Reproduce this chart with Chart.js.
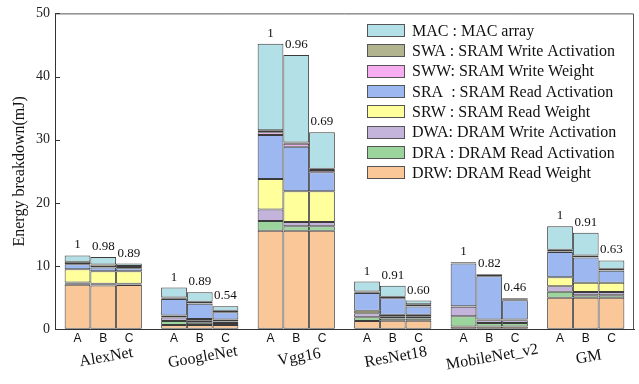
<!DOCTYPE html>
<html><head><meta charset="utf-8">
<script src="https://cdn.jsdelivr.net/npm/chart.js@4.4.1/dist/chart.umd.min.js"></script>
<style>html,body{margin:0;padding:0;background:#fff;}#wrap{width:639px;height:384px;}</style>
</head><body><div id="wrap"><canvas id="c" width="639" height="384"></canvas></div>
<script>
const groups = ['AlexNet','GoogleNet','Vgg16','ResNet18','MobileNet_v2','GM'];
const variants = ['A','B','C'];
const components = ['DRW','DRA','DWA','SRW','SRA','SWW','SWA','MAC'];
const legendLabels = {
  MAC:'MAC : MAC array', SWA:'SWA : SRAM Write Activation', SWW:'SWW: SRAM Write Weight',
  SRA:'SRA  : SRAM Read Activation', SRW:'SRW : SRAM Read Weight', DWA:'DWA: DRAM Write Activation',
  DRA:'DRA : DRAM Read Activation', DRW:'DRW: DRAM Read Weight'
};
const colors = {DRW:'#fac898',DRA:'#9bd49d',DWA:'#c4b3da',SRW:'#ffff9c',SRA:'#9db8f0',SWW:'#f7aef0',SWA:'#b1b48f',MAC:'#b3e0e6'};

// Energy (mJ) per component, per variant, over groups
const DRW_A = [7.05, 0.7, 15.6, 1.3, 0.45, 5.0];
const DRW_B = [6.95, 0.7, 15.6, 1.35, 0.45, 5.0];
const DRW_C = [7.0, 0.7, 15.6, 1.35, 0.45, 5.0];
const DRA_A = [0.15, 0.6, 1.55, 0.6, 1.6, 0.95];
const DRA_B = [0.1, 0.35, 0.7, 0.35, 0.55, 0.4];
const DRA_C = [0.1, 0.3, 0.7, 0.35, 0.55, 0.4];
const DWA_A = [0.2, 0.55, 1.8, 0.65, 1.5, 0.85];
const DWA_B = [0.15, 0.3, 0.7, 0.3, 0.45, 0.5];
const DWA_C = [0.1, 0.25, 0.7, 0.3, 0.45, 0.5];
const SRW_A = [2.1, 0.35, 4.85, 0.4, 0.1, 1.45];
const SRW_B = [2.0, 0.3, 4.85, 0.3, 0.1, 1.45];
const SRW_C = [2.0, 0.3, 4.85, 0.3, 0.1, 1.45];
const SRA_A = [0.8, 2.6, 6.95, 2.8, 6.75, 4.0];
const SRA_B = [0.6, 2.4, 7.05, 2.6, 6.85, 4.0];
const SRA_C = [0.45, 1.15, 3.0, 1.3, 3.05, 1.9];
const SWW_A = [0.05, 0.05, 0.45, 0.05, 0.05, 0.05];
const SWW_B = [0.05, 0.05, 0.45, 0.05, 0.05, 0.05];
const SWW_C = [0.05, 0.05, 0.35, 0.05, 0.05, 0.05];
const SWA_A = [0.35, 0.2, 0.3, 0.2, 0.1, 0.3];
const SWA_B = [0.4, 0.25, 0.2, 0.2, 0.15, 0.3];
const SWA_C = [0.3, 0.2, 0.2, 0.3, 0.1, 0.3];
const MAC_A = [1.0, 1.55, 13.7, 1.55, 0.1, 3.7];
const MAC_B = [1.2, 1.5, 13.85, 1.75, 0.1, 3.6];
const MAC_C = [0.4, 0.7, 5.8, 0.6, 0.15, 1.3];

const ratio_A = ['1','1','1','1','1','1'];
const ratio_B = ['0.98','0.89','0.96','0.91','0.82','0.91'];
const ratio_C = ['0.89','0.54','0.69','0.60','0.46','0.63'];
const yTicks = [0,10,20,30,40,50];

const series = {
  DRW:{A:DRW_A,B:DRW_B,C:DRW_C}, DRA:{A:DRA_A,B:DRA_B,C:DRA_C}, DWA:{A:DWA_A,B:DWA_B,C:DWA_C},
  SRW:{A:SRW_A,B:SRW_B,C:SRW_C}, SRA:{A:SRA_A,B:SRA_B,C:SRA_C}, SWW:{A:SWW_A,B:SWW_B,C:SWW_C},
  SWA:{A:SWA_A,B:SWA_B,C:SWA_C}, MAC:{A:MAC_A,B:MAC_B,C:MAC_C}
};
const ratios = {A:ratio_A,B:ratio_B,C:ratio_C};

const datasets = [];
variants.forEach(v => {
  components.forEach(c => {
    datasets.push({
      label: c + ' ' + v, comp: c, variant: v, stack: v,
      data: series[c][v],
      backgroundColor: colors[c], borderColor: '#3c3c3c', borderWidth: 1, borderSkipped: false,
      categoryPercentage: 0.8, barPercentage: 1.0
    });
  });
});

const SERIF = 'Liberation Serif';
const SANS = 'Liberation Sans';

const decor = {
  id: 'decor',
  afterDraw(chart) {
    const ctx = chart.ctx, a = chart.chartArea;
    ctx.save();
    ctx.strokeStyle = '#555'; ctx.lineWidth = 1;
    ctx.beginPath();
    ctx.moveTo(a.left, a.top + 0.5); ctx.lineTo(Math.round(a.right) - 0.5, a.top + 0.5);
    ctx.lineTo(Math.round(a.right) - 0.5, a.bottom); ctx.stroke();
    // inward y ticks
    const ys = chart.scales.y;
    ctx.strokeStyle = '#333';
    ys.ticks.forEach((t, i) => {
      const py = Math.round(ys.getPixelForTick(i)) + 0.5;
      ctx.beginPath(); ctx.moveTo(a.left, py); ctx.lineTo(a.left + 5, py); ctx.stroke();
    });
    // bar labels
    datasets.forEach((ds, di) => {
      if (ds.comp !== 'MAC') return;
      const meta = chart.getDatasetMeta(di);
      meta.data.forEach((el, i) => {
        ctx.fillStyle = '#111';
        ctx.textAlign = 'center'; ctx.textBaseline = 'alphabetic';
        ctx.font = '13px "' + SERIF + '"';
        ctx.fillText(ratios[ds.variant][i], el.x, el.y - 7);
        ctx.font = '12px "' + SANS + '"';
        ctx.fillText(ds.variant, el.x, a.bottom + 13);
      });
    });
    // group names, slightly rotated
    const xs = chart.scales.x;
    ctx.font = '16px "' + SERIF + '"';
    ctx.fillStyle = '#111';
    groups.forEach((g, i) => {
      const px = xs.getPixelForTick(i);
      ctx.save();
      ctx.translate(px + 3, a.bottom + 28);
      ctx.rotate(-10 * Math.PI / 180);
      ctx.textAlign = 'center'; ctx.textBaseline = 'middle';
      ctx.fillText(g, 0, 0);
      ctx.restore();
    });
    // legend
    const order = components.slice().reverse();
    ctx.font = '16px "' + SERIF + '"';
    order.forEach((c, i) => {
      const cy = 30.5 + i * 20.35;
      ctx.fillStyle = colors[c];
      ctx.fillRect(367, Math.round(cy - 6.5), 38, 13);
      ctx.strokeStyle = '#555'; ctx.lineWidth = 1;
      ctx.strokeRect(367.5, Math.round(cy - 6.5) + 0.5, 37, 12);
      ctx.fillStyle = '#111'; ctx.textAlign = 'left'; ctx.textBaseline = 'middle';
      ctx.fillText(legendLabels[c], 412, cy + 1);
    });
    ctx.restore();
  }
};

new Chart(document.getElementById('c'), {
  type: 'bar',
  data: { labels: groups, datasets },
  options: {
    responsive: false, animation: false,
    layout: { padding: { top: 12, right: 5, left: 0, bottom: 0 } },
    plugins: { legend: { display: false }, tooltip: { enabled: false } },
    scales: {
      x: {
        stacked: true,
        grid: { drawOnChartArea: false, drawTicks: false },
        border: { color: '#333', width: 1 },
        ticks: { display: false },
        afterFit: s => { s.height = 54.7; }
      },
      y: {
        stacked: true, min: 0, max: 50,
        afterBuildTicks: s => { s.ticks = yTicks.map(v => ({ value: v })); },
        grid: { drawOnChartArea: false, drawTicks: false },
        border: { color: '#333', width: 1 },
        ticks: { padding: 5, color: '#222', font: { family: SERIF, size: 14 } },
        title: { display: true, text: 'Energy breakdown(mJ)', color: '#111',
                 font: { family: SERIF, size: 16 }, padding: { top: 10, bottom: 0 } },
        afterFit: s => { s.width = 55; }
      }
    }
  },
  plugins: [decor]
});
</script>
</body></html>
